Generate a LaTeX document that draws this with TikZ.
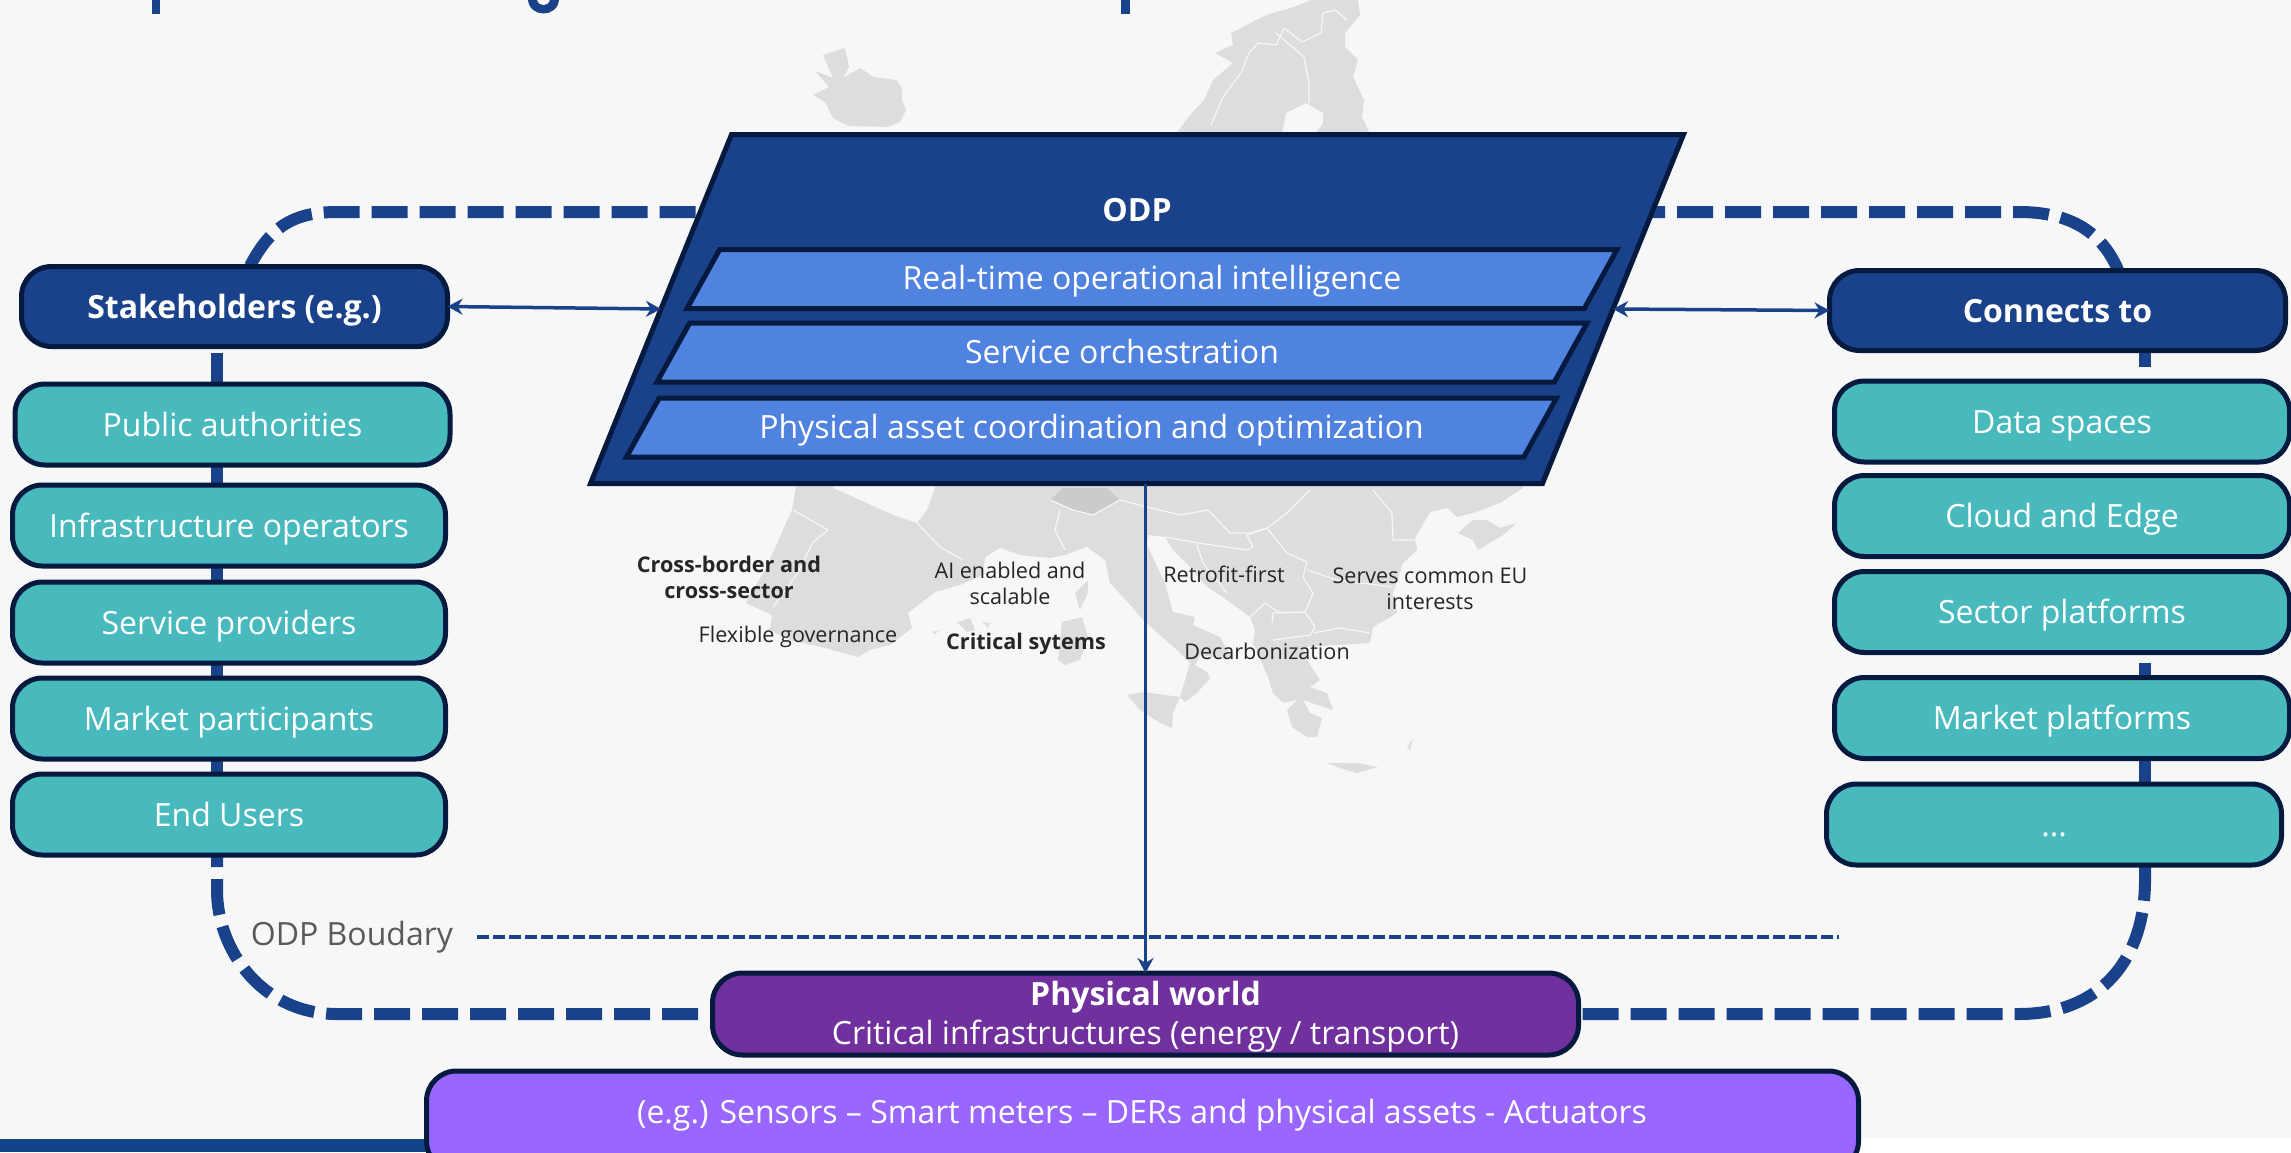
\documentclass[tikz,border=0pt]{standalone}
\usepackage{fontspec}
\setmainfont{Open Sans}
\usetikzlibrary{
  shapes.geometric,
  arrows.meta,
  positioning,  % Function "of" (e.g. [below=of x])
  backgrounds,  % Predefined layer named "background"
}
\definecolor{navy}{HTML}{1A428A}
\definecolor{ink}{HTML}{061A40}
\definecolor{teal}{HTML}{48BABD}
\definecolor{layer}{HTML}{5082DF}
\definecolor{plum}{HTML}{70309E}
\definecolor{lilac}{HTML}{9966FF}
\definecolor{land}{HTML}{DDDDDD}
\definecolor{page}{HTML}{F7F7F7}
\definecolor{footer}{HTML}{114488}
\def\mygap{7.5pt}
\newcommand{\fnt}[2]{\fontsize{#1}{#2}\selectfont}
\tikzset{
  x=0.5pt,
  y=-0.5pt,
  >={Stealth[length=7.5pt,width=8pt]},
  my box/.style={
    draw=ink,
    line width=2.5pt,
    rectangle,
    rounded corners=15pt,
    inner sep=0pt,
    outer sep=0pt,
    text=white,
    align=center,
    font=\fnt{16}{19.5}
  },
  my head/.style={
    my box,
    fill=navy,
    font=\fnt{16}{19.5}\bfseries,
    text height=11.9pt,
    text depth=0pt,
    minimum height=40pt
  },
  my item/.style={
    my box,
    fill=teal,
    text height=11.9pt,
    text depth=0pt,
    minimum width=216.5pt,
    minimum height=40.5pt
  },
  my layer/.style={
    draw=ink,
    line width=2.5pt,
    fill=layer,
    trapezium,
    trapezium left angle=61,
    trapezium right angle=119,
    trapezium stretches body=true,
    inner sep=0pt,
    outer sep=0pt,
    minimum width=465pt,
    text=white,
    text height=20pt,
    text depth=9.5pt,
    font=\fnt{16}{19.5}
  },
  my label/.style={
    align=center,
    inner sep=0pt,
    text=black!85,
    font=\fnt{10.8}{13}
  },
  boundary/.style={
    draw=navy,
    line width=6pt,
    dash pattern=on 18pt off 6pt
  },
  link/.style={
    draw=navy,
    line width=6pt
  },
  odp line/.style={
    draw=navy,
    line width=2pt,
    dash pattern=on 6pt off 2pt
  },
  arrow line/.style={
    draw=navy,
    line width=1.75pt
  },
  border/.style={
    draw=page,
    line width=0.6pt
  }
}
\begin{document}
\begin{tikzpicture}
\useasboundingbox (0,0) rectangle (2291,1152);
\begin{scope}[on background layer]
  % page and footer
  \fill[white] (0,0) rectangle (2291,1152);
  \fill[footer] (0,1139) rectangle (1000,1152);
  \fill[page,rounded corners=6pt] (-20,-20) rectangle (2311,1138);
  % what is left of the title
  \fill[navy] (152,0) rectangle (160,14);
  \fill[navy] (1121,0) rectangle (1130,14);
  \fill[navy] (528,0) .. controls (530,18) and (557,18) .. (559,0) -- (550,0)
    .. controls (548,7) and (539,7) .. (537,0) -- cycle;
  % map
  \fill[land] (815,71) -- (833,78) -- (823,55) -- (845,48) -- (849,67) -- (843,78)
    -- (860,68) -- (874,77) -- (896,80) -- (902,88) -- (902,100) -- (906,110)
    -- (900,122) -- (888,127) -- (849,126) -- (833,118) -- (825,102) -- (813,95)
    -- (829,87) -- cycle;
  \fill[land] (1176,134) -- (1190,115) -- (1204,100) -- (1213,80) -- (1233,63)
    -- (1215,53) -- (1233,45) -- (1231,33) -- (1243,27) -- (1266,15) -- (1294,7)
    -- (1311,0) -- (1358,0) -- (1360,15) -- (1345,33) -- (1345,47) -- (1358,60)
    -- (1353,77) -- (1364,100) -- (1362,117) -- (1370,134) -- (1315,134)
    -- (1323,123) -- (1323,113) -- (1306,103) -- (1286,113) -- (1282,134) -- cycle;
  \fill[land] (797,480) -- (833,480) -- (833,488) -- (860,500) -- (893,515) -- (917,523)
    -- (927,510) -- (935,488) -- (935,480) -- (1523,480) -- (1523,488) -- (1500,503)
    -- (1473,513) -- (1457,517) -- (1447,508) -- (1430,512) -- (1415,538) -- (1417,550)
    -- (1403,563) -- (1393,593) -- (1397,613) -- (1373,627) -- (1370,643) -- (1303,647)
    -- (1307,660) -- (1320,680) -- (1310,687) -- (1327,693) -- (1333,710) -- (1303,700)
    -- (1310,713) -- (1322,718) -- (1317,737) -- (1307,737) -- (1292,727) -- (1287,710)
    -- (1297,700) -- (1283,703) -- (1273,693) -- (1268,677) -- (1262,663) -- (1253,643)
    -- (1255,630) -- (1250,617) -- (1223,597) -- (1207,587) -- (1190,567) -- (1173,550)
    -- (1165,537) -- (1148,535) -- (1147,545) -- (1165,583) -- (1173,612) -- (1195,617)
    -- (1193,625) -- (1220,637) -- (1233,660) -- (1200,655) -- (1195,665) -- (1207,672)
    -- (1210,678) -- (1197,693) -- (1185,702) -- (1180,697) -- (1190,663) -- (1177,650)
    -- (1160,635) -- (1143,620) -- (1133,608) -- (1110,583) -- (1105,560) -- (1087,547)
    -- (1065,555) -- (1050,558) -- (1020,555) -- (1000,548) -- (985,557) -- (983,575)
    -- (960,585) -- (935,592) -- (908,613) -- (912,628) -- (890,645) -- (870,650)
    -- (858,657) -- (825,648) -- (790,640) -- (770,630) -- (772,615) -- (746,603)
    -- (750,595) -- (765,570) -- (780,537) -- (792,510) -- cycle;
  \fill[land!92!black] (1050,500) -- (1063,488) -- (1107,488) -- (1120,500)
    -- (1093,515) -- (1073,510) -- cycle;
  % islands
  \fill[land] (1458,533) -- (1473,520) -- (1487,520) -- (1500,528) -- (1517,523)
    -- (1503,535) -- (1478,550) -- (1473,540) -- cycle;
  \fill[land] (1075,593) -- (1088,580) -- (1088,593) -- (1080,610) -- cycle;
  \fill[land] (1062,622) -- (1082,617) -- (1088,637) -- (1080,660) -- (1065,665)
    -- (1058,660) -- cycle;
  \fill[land] (957,622) -- (970,618) -- (975,630) -- (967,632) -- cycle;
  \fill[land] (982,622) -- (990,623) -- (988,628) -- cycle;
  \fill[land] (932,632) -- (940,630) -- (935,634) -- cycle;
  \fill[land] (1127,695) -- (1143,692) -- (1180,697) -- (1173,713) -- (1172,728)
    -- (1160,723) -- (1140,710) -- cycle;
  \fill[land] (1327,763) -- (1357,763) -- (1378,767) -- (1357,773) -- (1340,768) -- cycle;
  \fill[land] (1407,747) -- (1413,738) -- (1410,750) -- cycle;
  % borders
  \draw[border] (1211,125) -- (1223,97) -- (1241,73) -- (1249,53) -- (1258,43) -- (1276,45) -- (1284,28);
  \draw[border] (1276,33) -- (1304,57) -- (1309,83) -- (1309,103);
  \draw[border] (1284,28) -- (1302,42) -- (1321,33) -- (1323,13) -- (1335,10) -- (1347,20);
  \draw[border] (793,510) -- (828,530) -- (813,542) -- (803,563) -- (795,577) -- (773,607);
  \draw[border] (917,523) -- (940,547) -- (963,560);
  \draw[border] (1060,510) -- (1055,530) -- (1065,550);
  \draw[border] (1050,500) -- (1073,510) -- (1093,515) -- (1120,500) -- (1147,507) -- (1180,515) -- (1208,510);
  \draw[border] (1208,510) -- (1230,533) -- (1250,533) -- (1267,528) -- (1287,513) -- (1310,490);
  \draw[border] (1165,537) -- (1198,543) -- (1247,550) -- (1253,547) -- (1247,535) -- (1267,528);
  \draw[border] (1197,545) -- (1203,563) -- (1227,593);
  \draw[border] (1267,528) -- (1287,553) -- (1307,562) -- (1303,577) -- (1313,593) -- (1305,612);
  \draw[border] (1307,570) -- (1337,580) -- (1393,587);
  \draw[border] (1373,490) -- (1392,513) -- (1393,540) -- (1417,540);
  \draw[border] (1313,633) -- (1340,628) -- (1370,633);
  \draw[border] (1272,623) -- (1273,613) -- (1305,612) -- (1315,627) -- (1310,635) -- (1273,640);
  \draw[border] (1250,617) -- (1265,603) -- (1280,613);
\end{scope}
% left column
\node[my head,minimum width=213pt] (stk) at (234.5,306.5) {Stakeholders (e.g.)};
\node[my item,minimum width=217.5pt] (pub) at (232.5,424.5) {Public authorities};
\node[my item] (inf) at (229,525.5) {Infrastructure operators};
\node[my item] (srv) [below=\mygap+0.5pt of inf] {Service providers};
\node[my item] (mkt) [below=\mygap of srv] {Market participants};
\node[my item] (use) [below=\mygap of mkt] {End Users};
% right column
\node[my head,minimum width=228pt] (con) at (2057.5,310.5) {Connects to};
\node[my item,minimum width=227.5pt] (dat) at (2062,421.5) {Data spaces};
\node[my item,minimum width=227.5pt] (cld) [below=6.75pt of dat] {Cloud and Edge};
\node[my item,minimum width=227.5pt] (sec) [below=\mygap of cld] {Sector platforms};
\node[my item,minimum width=227.5pt] (plt) [below=12.5pt of sec] {Market platforms};
\node[my item,minimum width=227.5pt] (etc) at (2054,824.5) {...};
% middle
\node[
  draw=ink,line width=2.5pt,fill=navy,trapezium,
  trapezium left angle=68,trapezium right angle=112,trapezium stretches body=true,
  inner sep=0pt,outer sep=0pt,minimum width=546.5pt,text height=174.5pt,text depth=0pt
] (odp) at (1137,309) {\phantom{X}};
\node[text=white,inner sep=0pt,font=\fnt{16}{19.5}\bfseries] (ttl) at (1137,210) {ODP};
\node[my layer] (rti) at (1152,279) {Real-time operational intelligence};
\node[my layer] (orc) at (1122,352.5) {Service orchestration};
\node[my layer] (pac) at (1091.5,427.5) {Physical asset coordination and optimization};
\node[my box,fill=plum,text depth=1pt,minimum width=433pt,minimum height=41pt] (phy) at (1145.5,1014)
  {\textbf{Physical world}\\Critical infrastructures (energy / transport)};
\node[my box,fill=lilac,minimum width=716pt,minimum height=50pt] (dev) at (1142.5,1121) {};
\node[text=white,inner sep=0pt,font=\fnt{16}{19.5}] (sns) at (1142,1115)
  {(e.g.) Sensors – Smart meters – DERs and physical assets - Actuators};
% labels on the map
\node[my label,font=\fnt{10.8}{13}\bfseries] (c1) at (729,577) {Cross-border and\\cross-sector};
\node[my label] (c2) at (1010,583) {AI enabled and\\scalable};
\node[my label] (c3) at (1224,574) {Retrofit-first};
\node[my label] (c4) at (1430,589) {Serves common EU\\interests};
\node[my label] (c5) at (798,637) {Flexible governance};
\node[my label,font=\fnt{10.8}{13}\bfseries] (c6) at (1026,644) {Critical sytems};
\node[my label] (c7) at (1267,651) {Decarbonization};
\node[inner sep=0pt,text=black!65,font=\fnt{16}{19}] (bdy) at (352,937) {ODP Boudary};
\coordinate (lx) at (217,0);
\coordinate (rx) at (2145,0);
\coordinate (tl) at (250,266);
\coordinate (tr) at (2118,270);
\coordinate (ol) at (720,212);
\coordinate (or) at (1629,212);
\coordinate (dr) at (1839,0);
\begin{scope}[on background layer]
  \draw[boundary] (tl) .. controls (270,228) and (292,212) .. (337,212) -- (ol);
  \draw[boundary] (or) -- (2019,212) .. controls (2065,212) and (2100,228) .. (tr);
  \draw[boundary,dash phase=12pt] (use.south -| lx) -- (217,890)
    .. controls (217,950) and (262,1014) .. (337,1014) -- (phy.west);
  \draw[boundary,dash phase=22pt] (phy.east) -- (2019,1014)
    .. controls (2100,1014) and (2145,960) .. (2145,880) -- (etc.south -| rx);
  \draw[link,shorten <=3pt] (stk.south -| lx) -- (pub.north -| lx);
  \foreach \a/\b in {pub/inf,inf/srv,srv/mkt,mkt/use}
    \draw[link] (\a.south -| lx) -- (\b.north -| lx);
  \draw[link,shorten >=7pt] (con.south -| rx) -- (dat.north -| rx);
  \draw[link,shorten <=5pt] (sec.south -| rx) -- (plt.north -| rx);
  \draw[link] (plt.south -| rx) -- (etc.north -| rx);
\end{scope}
\draw[odp line,shorten <=12pt] (bdy.east) -- (bdy.east -| dr);
\draw[arrow line,<->] (stk.east) -- (odp.west);
\draw[arrow line,<->] (odp.east) -- (con.west);
\draw[arrow line,->] (odp.south -| phy.north) -- (phy.north);
\end{tikzpicture}
\end{document}
